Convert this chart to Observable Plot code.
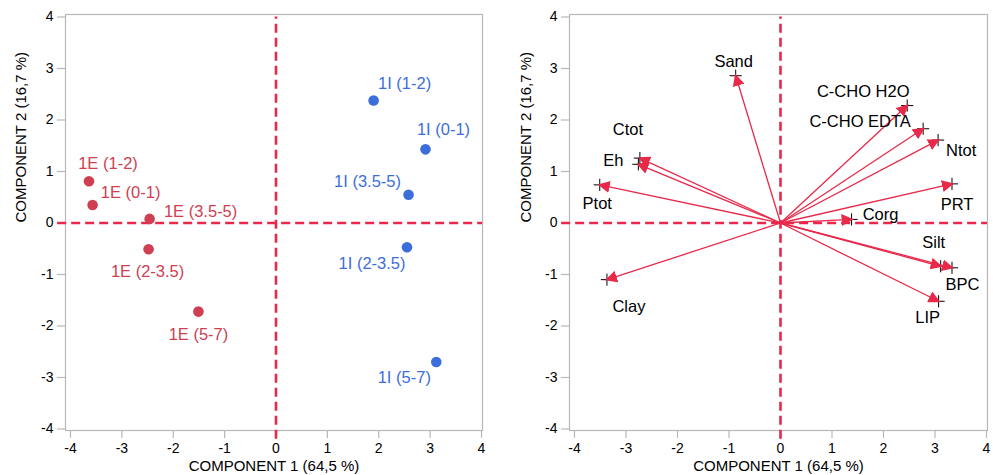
<!DOCTYPE html>
<html><head><meta charset="utf-8">
<script src="https://cdn.jsdelivr.net/npm/d3@7"></script>
<script src="https://cdn.jsdelivr.net/npm/@observablehq/plot@0.6"></script>
<style>
body{margin:0;background:#fff;}
#wrap{display:flex;width:993px;height:475px;}
#wrap svg{display:block;flex:none;}
</style></head><body><div id="wrap"></div>
<script>
// ---- data: sample scores (left panel)
const sampleNames = ["1E (1-2)","1E (0-1)","1E (3.5-5)","1E (2-3.5)","1E (5-7)","1I (1-2)","1I (0-1)","1I (3.5-5)","1I (2-3.5)","1I (5-7)"];
const sampleGroups = ["1E","1E","1E","1E","1E","1I","1I","1I","1I","1I"];
const samplePC1 = [-3.64,-3.57,-2.46,-2.48,-1.51,1.90,2.91,2.58,2.55,3.12];
const samplePC2 = [0.81,0.35,0.08,-0.51,-1.72,2.38,1.43,0.55,-0.47,-2.70];

// ---- data: variable loadings (right panel)
const variableNames = ["Sand","C-CHO H2O","C-CHO EDTA","Ntot","PRT","Corg","Ctot","Eh","Ptot","Clay","Silt","BPC","LIP"];
const variablePC1 = [-0.87,2.46,2.77,3.06,3.33,1.38,-2.73,-2.76,-3.51,-3.37,3.11,3.33,3.07];
const variablePC2 = [2.86,2.28,1.83,1.61,0.76,0.07,1.26,1.14,0.74,-1.10,-0.84,-0.87,-1.52];

// ---- axes
const axisTicks = [-4,-3,-2,-1,0,1,2,3,4];
const xTitle = "COMPONENT 1 (64,5 %)";
const yTitle = "COMPONENT 2 (16,7 %)";

// ---- styling
const FONT = "'Liberation Sans', Arial, Helvetica, sans-serif";
const groupColor = {"1E": "#cf3e51", "1I": "#3c6edb"};
const dashRed = "#e9284a";
const arrowRed = "#e8294a";
const sampleLabelOffset = {
  "1E (1-2)": [19, -18], "1E (0-1)": [38, -12], "1E (3.5-5)": [51, -7],
  "1E (2-3.5)": [-1, 22], "1E (5-7)": [0, 23],
  "1I (1-2)": [31, -17], "1I (0-1)": [18, -20], "1I (3.5-5)": [-41, -13],
  "1I (2-3.5)": [-35, 17], "1I (5-7)": [-32, 16]
};
const variableLabelOffset = {
  "Sand": [-2, -14], "C-CHO H2O": [-44, -13.5], "C-CHO EDTA": [-63, -7.5],
  "Ntot": [23, 11], "PRT": [5, 21], "Corg": [29, -5], "Ctot": [-12, -28],
  "Eh": [-25, -4], "Ptot": [-2.5, 19], "Clay": [22, 27.5], "Silt": [-7, -23.5],
  "BPC": [10.5, 16.5], "LIP": [-11, 16.5]
};

const samples = sampleNames.map((name, i) => ({name, group: sampleGroups[i], x: samplePC1[i], y: samplePC2[i]}));
const variables = variableNames.map((name, i) => ({name, x: variablePC1[i], y: variablePC2[i]}));

function triangleMarker(color) {
  const ns = "http://www.w3.org/2000/svg";
  const m = document.createElementNS(ns, "marker");
  m.setAttribute("viewBox", "-12 -6 12 12");
  m.setAttribute("markerWidth", 12);
  m.setAttribute("markerHeight", 12);
  m.setAttribute("markerUnits", "userSpaceOnUse");
  m.setAttribute("refX", -2);
  m.setAttribute("refY", 0);
  m.setAttribute("orient", "auto");
  const p = document.createElementNS(ns, "path");
  p.setAttribute("d", "M0,0L-12,-6L-12,6Z");
  p.setAttribute("fill", color);
  p.setAttribute("stroke", "none");
  m.appendChild(p);
  return m;
}

function panel({width, marginLeft, marginRight, yTitleDx, marks}) {
  return Plot.plot({
    width, height: 475,
    marginLeft, marginRight, marginTop: 14, marginBottom: 45,
    style: {fontFamily: FONT, background: "white", overflow: "visible", color: "black"},
    x: {domain: [-4, 4], insetLeft: 5, insetRight: 1, axis: null},
    y: {domain: [-4, 4], insetTop: 2.5, insetBottom: 1.5, axis: null},
    marks: [
      Plot.frame({stroke: "#b8b8b8", strokeWidth: 1.2}),
      Plot.axisX({ticks: axisTicks, tickSize: 8, tickPadding: 5, fontSize: 14, stroke: "#b8b8b8", strokeWidth: 1.2, fill: "black", tickFormat: d => String(d), label: null}),
      Plot.axisY({ticks: axisTicks, tickSize: 8, tickPadding: 4, fontSize: 14, stroke: "#b8b8b8", strokeWidth: 1.2, fill: "black", tickFormat: d => String(d), label: null}),
      Plot.ruleY([0], {x1: -4.25, x2: 4.02, stroke: dashRed, strokeWidth: 2.6, strokeDasharray: "9,5"}),
      Plot.ruleX([0], {y1: -4.2, y2: 4, stroke: dashRed, strokeWidth: 2.6, strokeDasharray: "9,5"}),
      Plot.text([xTitle], {text: d => d, frameAnchor: "bottom", dy: 36, lineAnchor: "middle", fontSize: 15, fill: "black"}),
      Plot.text([yTitle], {text: d => d, frameAnchor: "left", dx: yTitleDx, rotate: -90, lineAnchor: "middle", fontSize: 15, fill: "black"}),
      ...marks
    ]
  });
}

const left = panel({
  width: 497, marginLeft: 65, marginRight: 15, yTitleDx: -44,
  marks: [
    Plot.dot(samples, {x: "x", y: "y", r: 5.3, fill: d => groupColor[d.group], stroke: "none"}),
    ...samples.map(s => Plot.text([s], {
      x: "x", y: "y", text: "name",
      dx: sampleLabelOffset[s.name][0], dy: sampleLabelOffset[s.name][1],
      fill: groupColor[s.group], fontSize: 16.5, textAnchor: "middle"
    }))
  ]
});

const right = panel({
  width: 496, marginLeft: 72, marginRight: 6, yTitleDx: -43,
  marks: [
    Plot.dot(variables, {x: "x", y: "y", symbol: "plus", r: 4, stroke: "black", strokeWidth: 1}),
    Plot.link(variables, {x1: () => 0, y1: () => 0, x2: "x", y2: "y", stroke: arrowRed, strokeWidth: 1.3, markerEnd: triangleMarker}),
    ...variables.map(v => Plot.text([v], {
      x: "x", y: "y", text: "name",
      dx: variableLabelOffset[v.name][0], dy: variableLabelOffset[v.name][1],
      fill: "black", fontSize: 16.5, textAnchor: "middle"
    }))
  ]
});

const wrap = document.getElementById("wrap");
wrap.appendChild(left);
wrap.appendChild(right);
</script>
</body></html>
